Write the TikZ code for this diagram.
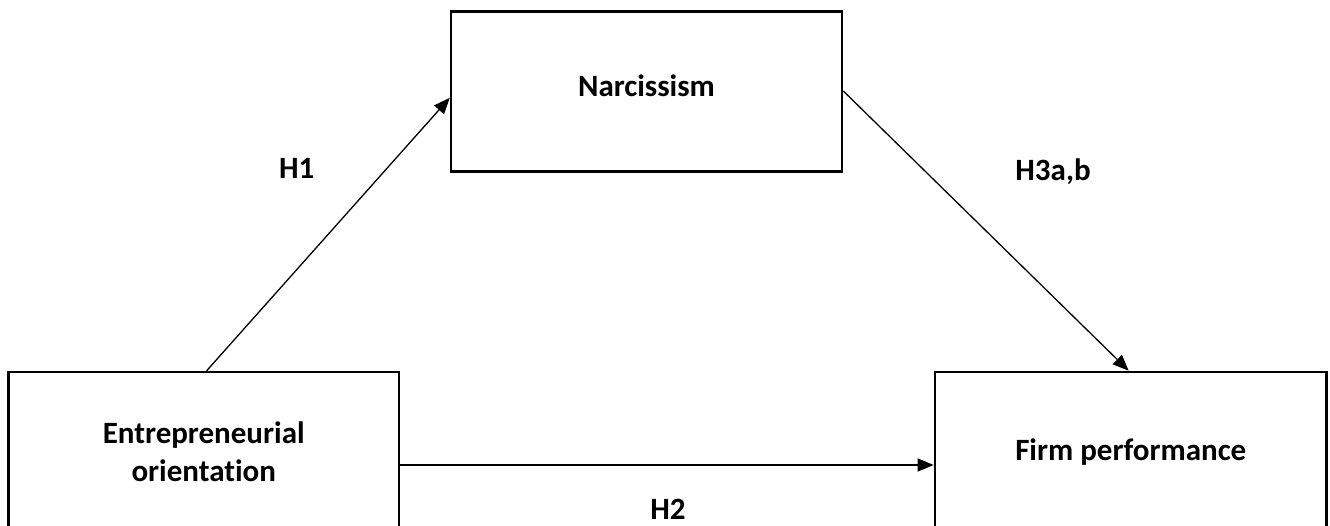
\documentclass[tikz,border=0pt]{standalone}
\usepackage{fontspec}
\setmainfont[Ligatures=NoCommon,RawFeature=-liga]{Carlito}
\usetikzlibrary{arrows.meta}
\begin{document}
\begin{tikzpicture}[x=1pt,y=1pt,
  box/.style={draw=black,line width=2.6pt,rectangle,inner sep=0pt,minimum height=160pt,
    font=\fontsize{31}{38}\selectfont\bfseries,align=center},
  conn/.style={line width=1.3pt,-{Triangle[length=16pt,width=13pt]}},
  lab/.style={font=\fontsize{31}{38}\selectfont\bfseries,inner sep=0pt}]
\useasboundingbox (0,0) rectangle (1330,-526);
\begin{scope}
\clip (0,0) rectangle (1330,-526);
\node[box,minimum width=391pt,text depth=13pt] (nar) at (646.5,-91.7) {Narcissism};
\node[box,minimum width=390.5pt] (eo) at (203.75,-452) {Entrepreneurial\\orientation};
\node[box,minimum width=391.7pt] (fp) at (1130.8,-452) {Firm performance};
\draw[conn] ([xshift=199.5pt]eo.north west) -- ([yshift=-87.5pt]nar.north west);
\draw[conn] ([yshift=-80.6pt]nar.north east) -- ([xshift=195pt]fp.north west);
\draw[conn] ([yshift=-13pt]eo.east) -- ([yshift=-13pt]fp.west);
\node[lab] (h1) at (296.7,-168.3) {H1};
\node[lab] (h3) at (1053,-171.7) {H3a,b};
\node[lab] (h2) at (668,-509) {H2};
\end{scope}
\end{tikzpicture}
\end{document}
